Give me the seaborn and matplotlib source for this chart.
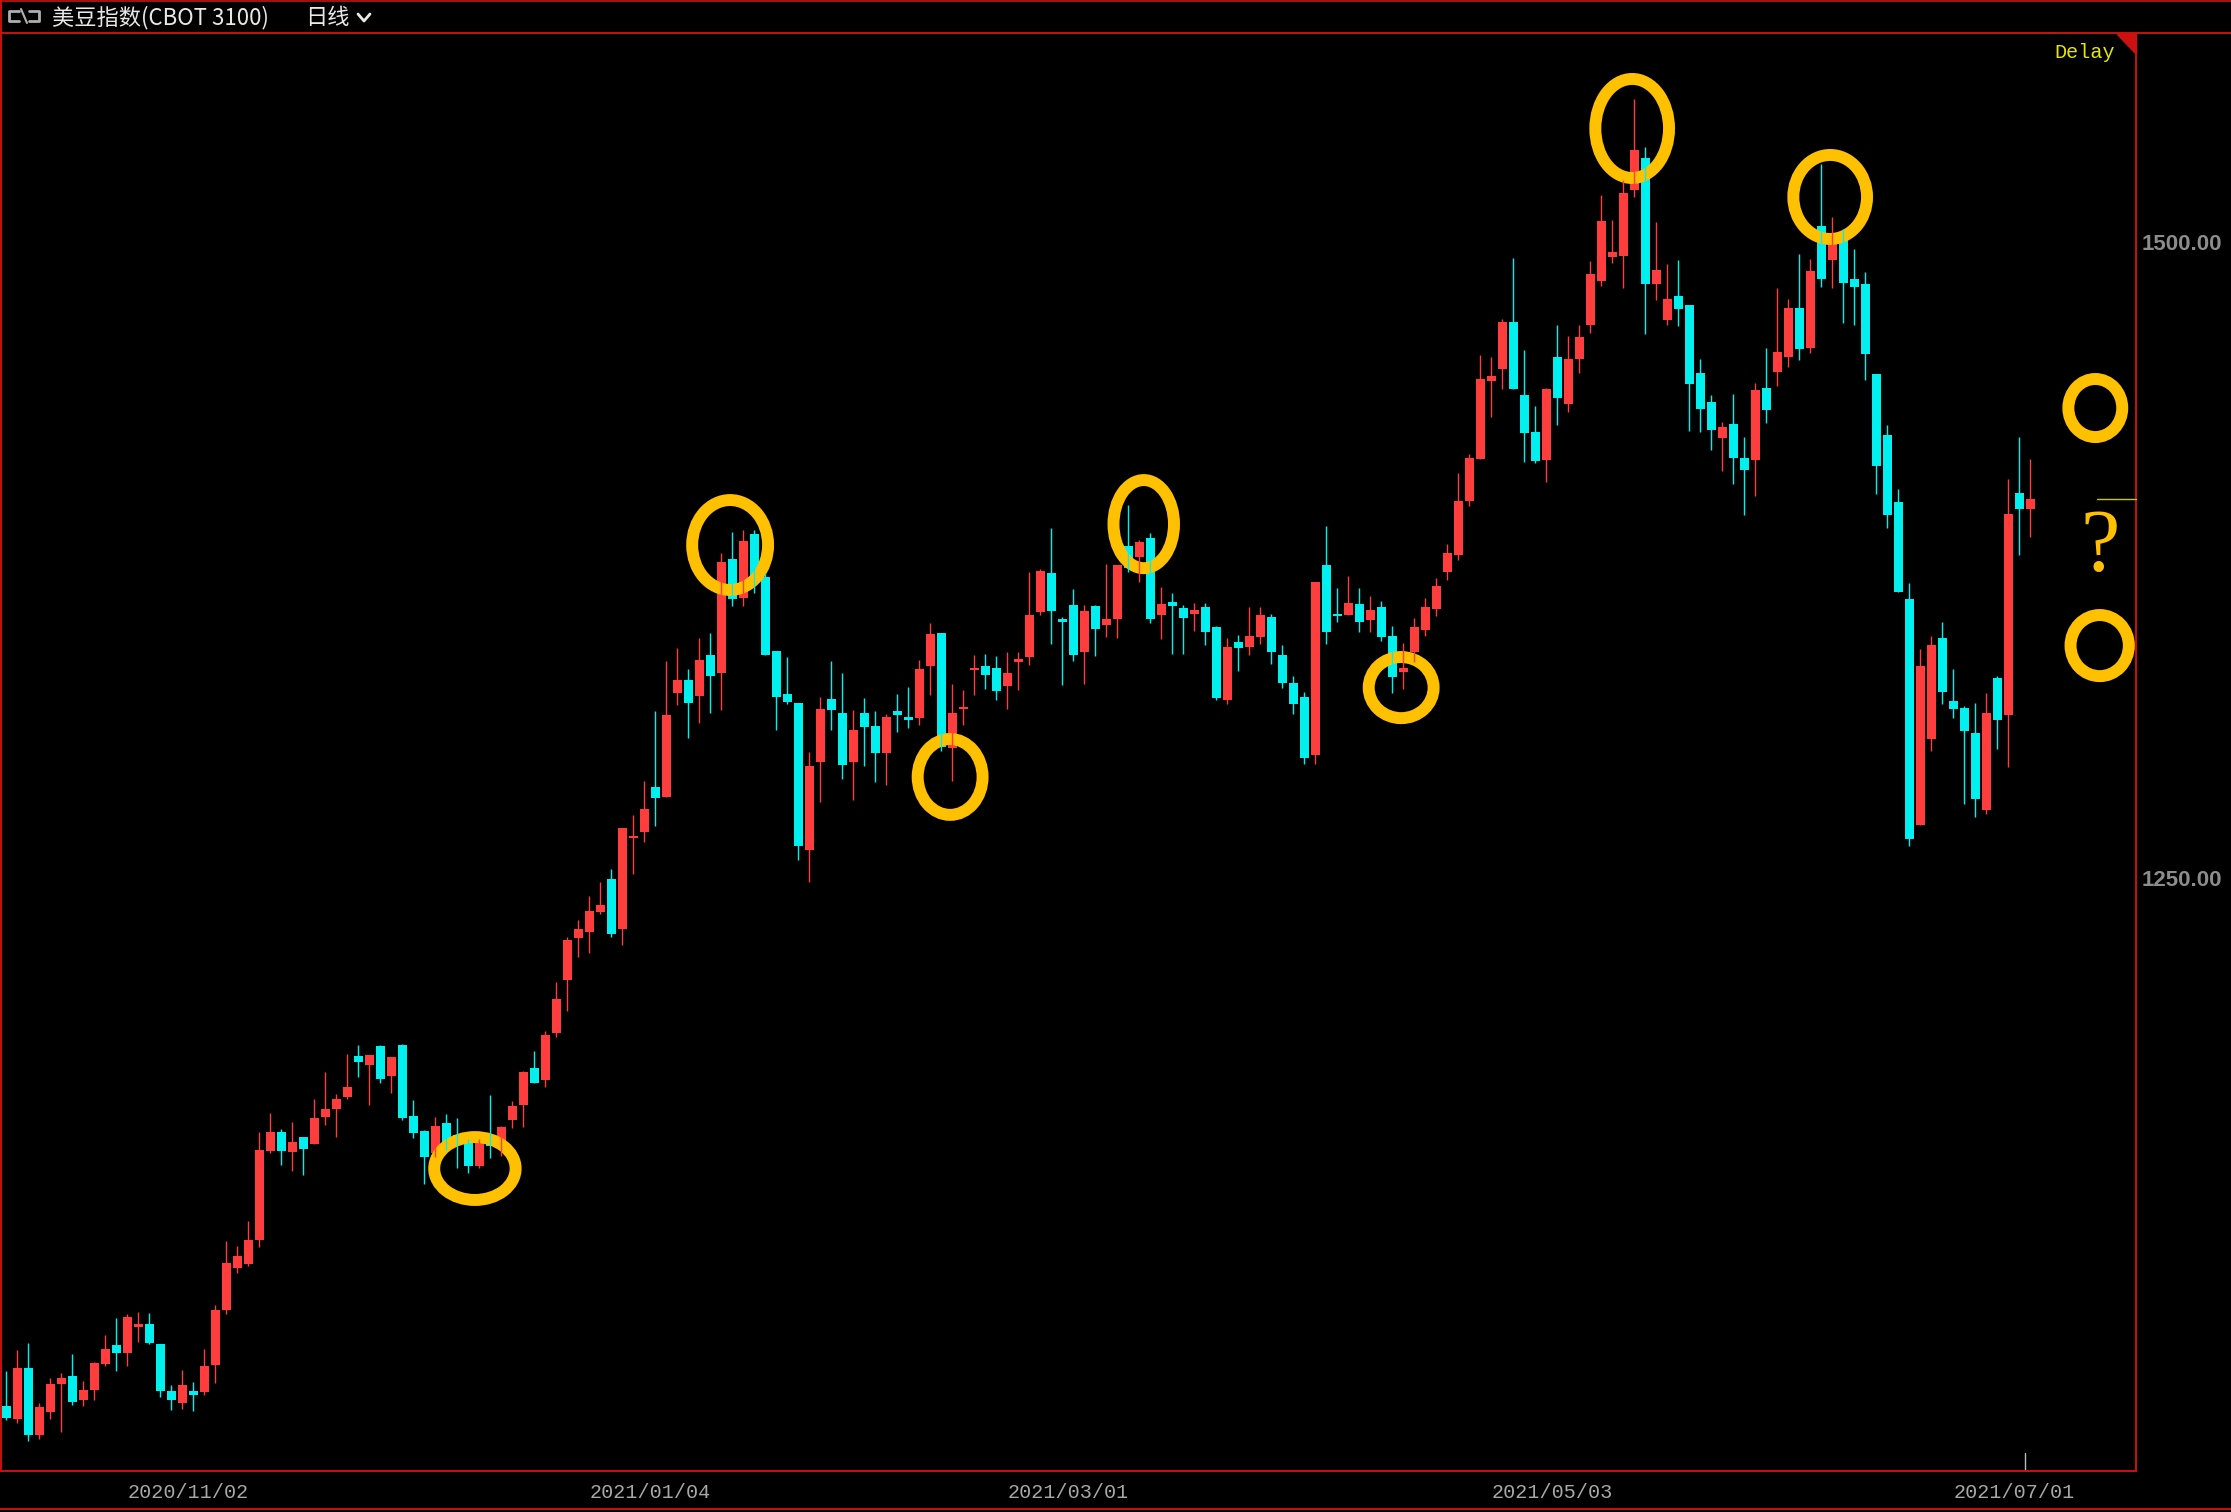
import numpy as np
import pandas as pd
import seaborn as sns
import matplotlib.pyplot as plt
from matplotlib.patches import Ellipse, Polygon
from matplotlib.lines import Line2D

# daily candles (index 0 = first visible bar)
opens = [1042.6, 1037.5, 1057.5, 1031.4, 1040.4, 1051.4, 1054.4, 1045.1, 1049.0, 1059.2,
         1066.6, 1063.6, 1073.8, 1074.8, 1067.0, 1048.5, 1043.9, 1048.5, 1048.2, 1058.9,
         1080.5, 1097.0, 1098.5, 1108.0, 1142.9, 1150.2, 1142.5, 1148.3, 1145.7, 1156.3,
         1159.4, 1164.1, 1180.1, 1176.7, 1184.0, 1172.4, 1184.4, 1156.5, 1150.6, 1141.9,
         1153.8, 1149.0, 1146.4, 1137.0, 1148.4, 1144.5, 1155.1, 1161.0, 1175.4, 1170.8,
         1189.2, 1210.1, 1226.6, 1228.9, 1236.8, 1249.6, 1230.1, 1265.7, 1268.1, 1285.7,
         1281.8, 1322.7, 1327.8, 1321.5, 1337.6, 1330.5, 1375.3, 1360.0, 1385.1, 1368.2,
         1339.2, 1322.3, 1318.7, 1261.1, 1295.6, 1320.3, 1314.8, 1295.6, 1314.8, 1309.7,
         1299.1, 1315.6, 1313.2, 1312.8, 1333.3, 1346.2, 1301.2, 1316.4, 1331.7, 1333.3,
         1332.5, 1325.4, 1334.9, 1336.8, 1354.5, 1369.8, 1351.7, 1357.2, 1338.8, 1356.8,
         1349.4, 1351.7, 1380.4, 1376.1, 1383.5, 1353.3, 1358.4, 1356.0, 1353.7, 1356.4,
         1348.6, 1319.9, 1342.7, 1340.7, 1344.6, 1352.5, 1337.6, 1326.6, 1321.1, 1298.3,
         1372.9, 1353.7, 1353.3, 1357.6, 1351.3, 1356.4, 1345.0, 1330.9, 1338.8, 1347.4,
         1355.6, 1370.2, 1376.8, 1398.1, 1414.7, 1445.3, 1450.1, 1468.4, 1439.7, 1425.2,
         1414.3, 1454.7, 1436.3, 1454.0, 1467.3, 1484.6, 1494.1, 1494.4, 1520.4, 1532.8,
         1483.4, 1469.3, 1478.6, 1475.1, 1448.4, 1437.0, 1423.0, 1428.3, 1415.0, 1414.3,
         1442.5, 1448.9, 1454.8, 1473.9, 1458.0, 1505.9, 1492.8, 1502.6, 1485.3, 1483.3,
         1448.0, 1424.0, 1397.7, 1359.7, 1270.8, 1304.8, 1344.3, 1319.6, 1316.7, 1307.0,
         1276.8, 1328.6, 1314.1, 1401.2, 1395.1]
highs = [1056.4, 1064.6, 1067.4, 1043.8, 1053.6, 1055.6, 1063.0, 1052.4, 1059.9, 1070.5,
         1077.2, 1078.7, 1079.5, 1079.1, 1067.0, 1050.9, 1056.7, 1052.0, 1065.0, 1082.3,
         1107.4, 1105.5, 1115.3, 1150.2, 1157.7, 1151.4, 1154.2, 1148.3, 1163.2, 1173.8,
         1165.2, 1180.9, 1184.4, 1180.5, 1184.4, 1179.7, 1185.0, 1162.8, 1151.0, 1156.1,
         1157.3, 1155.7, 1147.5, 1147.5, 1164.8, 1152.6, 1162.4, 1174.2, 1182.0, 1189.9,
         1209.1, 1226.8, 1233.5, 1242.9, 1248.4, 1253.5, 1269.6, 1274.7, 1288.1, 1315.6,
         1335.2, 1340.3, 1332.1, 1344.3, 1346.2, 1377.7, 1385.9, 1386.7, 1386.5, 1370.0,
         1339.2, 1336.8, 1318.7, 1299.5, 1321.1, 1335.2, 1330.5, 1316.0, 1320.7, 1315.6,
         1314.4, 1322.3, 1325.0, 1335.6, 1350.2, 1346.2, 1326.2, 1323.8, 1337.6, 1338.0,
         1337.2, 1338.8, 1338.8, 1370.2, 1371.4, 1387.5, 1352.5, 1363.5, 1357.2, 1357.2,
         1373.3, 1372.9, 1396.5, 1382.8, 1385.5, 1364.3, 1362.0, 1357.2, 1358.0, 1358.0,
         1349.0, 1344.3, 1345.4, 1356.4, 1356.4, 1353.7, 1341.5, 1329.3, 1323.0, 1366.3,
         1388.3, 1363.9, 1368.6, 1363.9, 1360.7, 1358.8, 1349.0, 1342.3, 1352.0, 1360.0,
         1368.0, 1381.0, 1409.1, 1416.5, 1455.4, 1454.7, 1469.6, 1493.5, 1457.4, 1435.4,
         1442.5, 1467.2, 1462.9, 1467.2, 1492.3, 1518.3, 1508.5, 1524.2, 1556.0, 1537.1,
         1507.7, 1491.2, 1492.7, 1475.1, 1453.9, 1439.7, 1429.1, 1440.1, 1423.2, 1444.4,
         1458.2, 1481.8, 1477.4, 1495.1, 1493.1, 1530.4, 1509.6, 1505.0, 1497.0, 1488.0,
         1448.0, 1427.9, 1402.8, 1365.9, 1339.9, 1344.9, 1350.5, 1332.1, 1317.6, 1318.7,
         1322.7, 1329.3, 1406.7, 1423.3, 1414.5]
lows = [1037.2, 1036.1, 1029.0, 1029.8, 1037.6, 1032.5, 1043.1, 1042.7, 1045.1, 1058.4,
        1056.5, 1058.4, 1067.9, 1067.1, 1046.3, 1041.2, 1041.6, 1040.8, 1047.1, 1051.8,
        1078.9, 1095.0, 1097.7, 1105.2, 1142.1, 1137.4, 1135.1, 1133.5, 1145.7, 1153.1,
        1148.4, 1163.3, 1172.0, 1161.0, 1169.6, 1165.7, 1155.1, 1148.0, 1129.9, 1140.6,
        1143.1, 1136.2, 1134.2, 1136.2, 1140.1, 1140.9, 1151.9, 1152.3, 1169.6, 1168.0,
        1187.7, 1197.9, 1219.1, 1220.7, 1236.0, 1227.0, 1223.5, 1251.6, 1264.1, 1270.4,
        1281.8, 1318.0, 1305.0, 1310.9, 1314.8, 1316.0, 1356.8, 1356.8, 1361.9, 1337.6,
        1308.1, 1318.3, 1257.1, 1248.6, 1279.9, 1308.1, 1288.9, 1280.6, 1294.0, 1287.7,
        1286.5, 1307.3, 1308.9, 1310.1, 1321.9, 1300.0, 1288.2, 1310.1, 1321.9, 1324.2,
        1319.9, 1316.4, 1323.9, 1333.7, 1353.3, 1341.9, 1325.8, 1335.2, 1326.2, 1337.2,
        1344.7, 1344.3, 1370.3, 1366.3, 1350.2, 1343.9, 1338.0, 1338.0, 1347.0, 1341.5,
        1319.9, 1318.3, 1331.3, 1337.6, 1341.9, 1334.1, 1324.6, 1314.4, 1294.8, 1294.8,
        1341.9, 1350.5, 1353.3, 1346.6, 1346.6, 1343.1, 1322.7, 1324.2, 1335.0, 1345.0,
        1353.0, 1367.0, 1375.0, 1396.0, 1414.7, 1431.2, 1442.2, 1442.2, 1413.5, 1413.1,
        1405.7, 1428.1, 1433.2, 1448.5, 1464.2, 1482.7, 1491.7, 1481.9, 1517.6, 1463.8,
        1477.2, 1467.3, 1466.9, 1425.7, 1425.3, 1418.2, 1410.0, 1404.9, 1392.7, 1400.2,
        1428.9, 1443.4, 1450.8, 1453.6, 1456.4, 1482.0, 1481.8, 1468.1, 1467.2, 1445.6,
        1400.8, 1387.5, 1362.4, 1262.6, 1270.8, 1299.7, 1318.5, 1313.0, 1278.9, 1274.1,
        1275.0, 1300.8, 1293.5, 1376.7, 1383.8]
closes = [1038.0, 1057.5, 1031.4, 1042.2, 1051.3, 1053.6, 1044.3, 1048.9, 1059.5, 1065.0,
          1063.6, 1077.6, 1074.8, 1067.5, 1048.6, 1045.1, 1050.9, 1047.1, 1058.3, 1080.3,
          1098.8, 1101.5, 1107.8, 1143.2, 1150.2, 1142.9, 1146.3, 1143.7, 1155.7, 1159.3,
          1163.2, 1167.9, 1177.9, 1180.5, 1171.2, 1179.7, 1155.9, 1149.9, 1140.5, 1152.6,
          1144.5, 1145.1, 1137.0, 1146.0, 1144.9, 1152.2, 1160.4, 1173.8, 1169.6, 1188.3,
          1202.5, 1225.6, 1230.0, 1237.0, 1239.4, 1228.1, 1269.6, 1266.5, 1277.1, 1281.4,
          1314.0, 1327.8, 1318.7, 1335.6, 1329.4, 1374.1, 1359.6, 1382.4, 1365.7, 1337.6,
          1321.1, 1319.1, 1262.7, 1294.0, 1316.4, 1316.0, 1294.4, 1308.1, 1309.3, 1299.1,
          1313.2, 1314.0, 1312.1, 1332.1, 1345.8, 1301.6, 1314.8, 1317.2, 1332.5, 1329.7,
          1323.4, 1330.5, 1336.0, 1353.3, 1370.6, 1354.9, 1350.6, 1337.6, 1354.9, 1347.8,
          1351.7, 1372.9, 1371.6, 1382.0, 1351.7, 1357.6, 1356.8, 1352.1, 1355.3, 1346.6,
          1320.7, 1340.7, 1340.3, 1345.0, 1353.3, 1338.8, 1326.6, 1318.3, 1297.1, 1366.3,
          1346.6, 1352.9, 1358.0, 1350.5, 1355.3, 1344.6, 1328.9, 1332.5, 1348.6, 1356.4,
          1364.7, 1377.6, 1398.1, 1415.0, 1446.0, 1447.2, 1468.4, 1442.2, 1424.9, 1413.9,
          1442.1, 1438.7, 1453.9, 1462.5, 1487.2, 1508.1, 1495.9, 1519.1, 1536.0, 1483.4,
          1488.8, 1477.4, 1473.6, 1444.2, 1434.3, 1426.1, 1427.1, 1415.1, 1410.4, 1441.7,
          1433.9, 1456.6, 1473.9, 1457.9, 1488.4, 1485.1, 1502.1, 1483.8, 1482.2, 1455.8,
          1412.0, 1392.6, 1362.4, 1265.3, 1333.3, 1341.6, 1322.9, 1316.2, 1307.6, 1280.9,
          1314.9, 1311.9, 1392.9, 1394.8, 1398.8]

date_idx = [17, 59, 97, 141, 183]
date_labels = ["2020/11/02", "2021/01/04", "2021/03/01", "2021/05/03", "2021/07/01"]
price_ticks = [1250, 1500]
last_price = 1398.8

# hand-drawn orange marks: bar index, price, width (bars), height (price)
mark_x = [42.6, 65.8, 85.8, 103.4, 126.8, 147.8, 165.8, 189.9, 190.3]
mark_y = [1135.9, 1380.8, 1289.7, 1389.0, 1324.8, 1544.4, 1517.5, 1434.6, 1341.3]
mark_w = [7.4, 6.9, 5.9, 5.5, 5.9, 6.7, 6.7, 4.9, 5.3]
mark_h = [24.7, 35.3, 29.8, 34.6, 24.0, 38.9, 33.0, 22.8, 24.0]

RED = "#ff3d3d"
CYAN = "#00f0f0"
FRAME = "#cc1111"
ORANGE = "#ffc000"

sns.set_theme(style="dark", rc={"axes.facecolor": "black", "figure.facecolor": "black",
                                "savefig.facecolor": "black"})
plt.rcParams['font.family'] = ['Noto Sans CJK SC', 'DejaVu Sans']

W, H = 2231, 1512
fig = plt.figure(figsize=(W / 100, H / 100), dpi=100)
ax = fig.add_axes([2 / W, 1 - 1471 / H, (2136 - 2) / W, (1471 - 33) / H])
ax.set_facecolor("black")

df = pd.DataFrame({"open": opens, "high": highs, "low": lows, "close": closes})
df["idx"] = np.arange(len(df))
df["color"] = np.where(df["close"] >= df["open"], RED, CYAN)
body_lo = df[["open", "close"]].min(axis=1)
body_h = (df["close"] - df["open"]).abs().clip(lower=0.9)

ax.vlines(df["idx"], df["low"], df["high"], colors=df["color"], lw=1.0)
ax.bar(df["idx"], body_h, bottom=body_lo, width=9 / 11, color=df["color"], linewidth=0)

ax.set_xlim(-0.39, 193.6)
ax.set_ylim(1017.1, 1581.9)
ax.grid(False)
for s in ax.spines.values():
    s.set_visible(False)

ax.yaxis.tick_right()
ax.set_yticks(price_ticks)
ax.set_yticklabels([f"{v:.2f}" for v in price_ticks], family="Liberation Sans",
                   fontweight="bold")
ax.tick_params(axis="y", length=0, pad=4, labelsize=16, labelcolor="#8c8c8c")
ax.set_xticks([i - 0.5 for i in date_idx])
ax.set_xticklabels(date_labels, family="Liberation Mono")
ax.tick_params(axis="x", length=0, pad=9, labelsize=14.5, labelcolor="#a8a8a8")
ax.axvline(date_idx[-1] + 0.5, ymin=0, ymax=18 / 1438, color="#bbbbbb", lw=1)

for x, y, w, h in zip(mark_x, mark_y, mark_w, mark_h):
    ax.add_patch(Ellipse((x, y), w, h, fill=False, ec=ORANGE, lw=8.6))
# question mark between the two right-hand circles
ax.text(190.3, mark_y[8] + mark_h[8] / 2 + 17.5, "?", color=ORANGE, fontsize=64,
        family="Liberation Serif", ha="center", va="baseline")


def px(x, y):
    return x / W, 1 - y / H


def fline(xs, ys, color, lw):
    pts = [px(x, y) for x, y in zip(xs, ys)]
    fig.add_artist(Line2D([p[0] for p in pts], [p[1] for p in pts], color=color, lw=lw,
                          transform=fig.transFigure))


# frame
fline([0, W], [0.5, 0.5], FRAME, 1.2)
fline([0, W], [33, 33], FRAME, 1.4)
fline([0.8, 0.8], [0, 1471], FRAME, 1.4)
fline([2136, 2136], [33, 1471], FRAME, 1.4)
fline([0, 2136], [1471, 1471], FRAME, 1.4)
fline([0, W], [1509, 1509], FRAME, 1.4)
fig.add_artist(Polygon([px(2117, 34), px(2136, 34), px(2136, 54)], closed=True,
                       color=FRAME, transform=fig.transFigure))
lp_y = 241.5 + (1500 - last_price) / 0.39277
fline([2097, 2136], [lp_y, lp_y], "#c8c800", 1)

# header
fline([19, 9, 9, 19], [11, 11, 21, 21], "#b0b0b0", 2)
fline([29, 39, 39, 29], [11, 11, 21, 21], "#b0b0b0", 2)
fline([21, 27], [9, 23], "#b0b0b0", 1.5)
fig.text(52 / W, 1 - 18 / H, "美豆指数(CBOT 3100)", color="#e8e8e8", fontsize=16,
         va="center", ha="left")
fig.text(305 / W, 1 - 18 / H, "日线", color="#e8e8e8", fontsize=16, va="center", ha="left")
fline([358, 364, 370], [14, 21, 14], "#e8e8e8", 2)
fig.text(2085 / W, 1 - 52 / H, "Delay", color="#e6e600", fontsize=14.5,
         family="Liberation Mono", ha="center", va="center")

fig.savefig("out.png", dpi=100, facecolor="black")
